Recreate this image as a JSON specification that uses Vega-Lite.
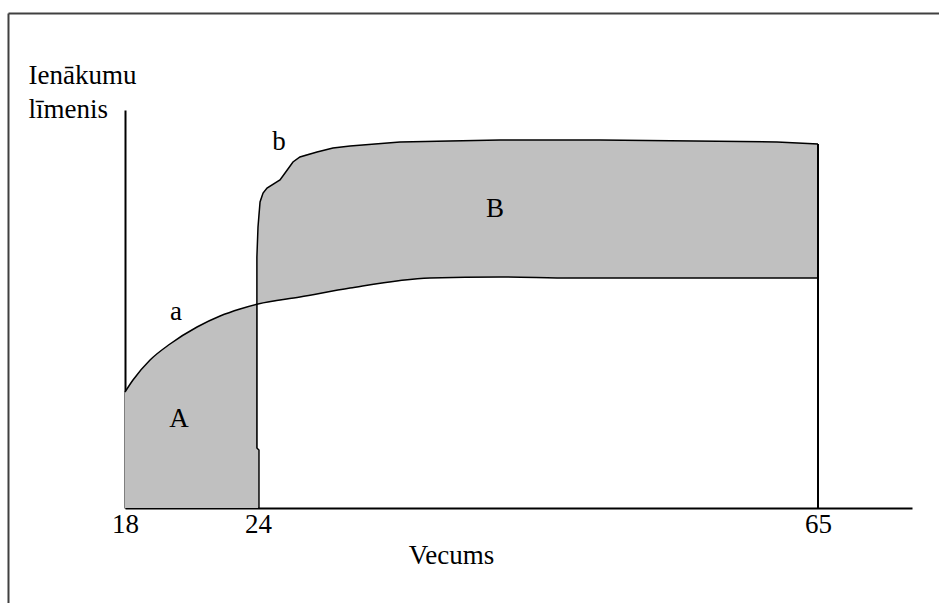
{
  "$schema": "https://vega.github.io/schema/vega-lite/v6.json",
  "width": 787,
  "height": 398,
  "autosize": {"type": "none"},
  "padding": {"left": 125, "top": 110, "right": 27, "bottom": 95},
  "background": "white",
  "config": {
    "view": {"stroke": null},
    "font": "Liberation Serif",
    "text": {"font": "Liberation Serif"}
  },
  "datasets": {
    "curveA": [
      {"age": 18, "inc": 116},
      {"age": 18.36, "inc": 128},
      {"age": 19.13, "inc": 148},
      {"age": 20.03, "inc": 164},
      {"age": 21.25, "inc": 181},
      {"age": 22.29, "inc": 192},
      {"age": 23.19, "inc": 199},
      {"age": 24, "inc": 204},
      {"age": 27.07, "inc": 211},
      {"age": 30.74, "inc": 220},
      {"age": 36.59, "inc": 230},
      {"age": 41.72, "inc": 231},
      {"age": 47.0, "inc": 230},
      {"age": 65, "inc": 230}
    ],
    "curveB": [
      {"ord": 1, "age": 24.07, "inc": 0},
      {"ord": 2, "age": 24.07, "inc": 58},
      {"ord": 3, "age": 23.95, "inc": 60},
      {"ord": 4, "age": 23.95, "inc": 251},
      {"ord": 5, "age": 24.0, "inc": 281},
      {"ord": 6, "age": 24.15, "inc": 306},
      {"ord": 7, "age": 24.37, "inc": 315},
      {"ord": 8, "age": 24.66, "inc": 320},
      {"ord": 9, "age": 25.61, "inc": 328},
      {"ord": 10, "age": 25.98, "inc": 335},
      {"ord": 11, "age": 26.56, "inc": 346},
      {"ord": 12, "age": 27.07, "inc": 351},
      {"ord": 13, "age": 28.32, "inc": 356},
      {"ord": 14, "age": 29.49, "inc": 360},
      {"ord": 15, "age": 30.74, "inc": 362},
      {"ord": 16, "age": 34.4, "inc": 366},
      {"ord": 17, "age": 41.72, "inc": 368},
      {"ord": 18, "age": 49.04, "inc": 368},
      {"ord": 19, "age": 62.0, "inc": 366},
      {"ord": 20, "age": 65, "inc": 364}
    ],
    "bandB": [
      {"age": 23.95, "top": 251, "bottom": 204},
      {"age": 24.0, "top": 281, "bottom": 204},
      {"age": 24.15, "top": 306, "bottom": 204.4},
      {"age": 24.37, "top": 315, "bottom": 204.9},
      {"age": 24.66, "top": 320, "bottom": 205.5},
      {"age": 25.61, "top": 328, "bottom": 207.6},
      {"age": 25.98, "top": 335, "bottom": 208.5},
      {"age": 26.56, "top": 346, "bottom": 209.8},
      {"age": 27.07, "top": 351, "bottom": 211},
      {"age": 28.32, "top": 356, "bottom": 214},
      {"age": 29.49, "top": 360, "bottom": 217},
      {"age": 30.74, "top": 362, "bottom": 220},
      {"age": 34.4, "top": 366, "bottom": 227},
      {"age": 36.59, "top": 367, "bottom": 230},
      {"age": 41.72, "top": 368, "bottom": 231},
      {"age": 47.0, "top": 368, "bottom": 230},
      {"age": 62.0, "top": 366, "bottom": 230},
      {"age": 65, "top": 364, "bottom": 230}
    ],
    "letters": [
      {"label": "a", "age": 20.3, "inc": 196},
      {"label": "A", "age": 20.44, "inc": 89},
      {"label": "b", "age": 25.54, "inc": 366},
      {"label": "B", "age": 41.35, "inc": 299}
    ],
    "retire": [
      {"age": 65, "inc": 0, "inc2": 364}
    ],
    "frameTop": [
      {"age": 12.744, "age2": 74.66, "inc": 494.5}
    ],
    "frameLeft": [
      {"age": 12.744, "inc": 494.5, "inc2": -102}
    ]
  },
  "encoding": {
    "x": {
      "type": "quantitative",
      "scale": {"type": "linear", "domain": [18, 24, 65, 71.88], "range": [0, 133, 693, 787], "nice": false, "zero": false},
      "axis": {
        "values": [18, 24, 65],
        "title": "Vecums",
        "grid": false,
        "ticks": false,
        "tickSize": 0,
        "labelFont": "Liberation Serif",
        "labelFontSize": 27,
        "labelColor": "black",
        "labelAlign": "center",
        "labelBaseline": "alphabetic",
        "labelPadding": 24,
        "labelFlush": false,
        "labelOverlap": false,
        "domainColor": "black",
        "domainWidth": 2,
        "titleFont": "Liberation Serif",
        "titleFontSize": 27,
        "titleFontWeight": "normal",
        "titleColor": "black",
        "titleX": 326,
        "titleY": 55,
        "titleAlign": "center",
        "titleBaseline": "alphabetic"
      }
    },
    "y": {
      "type": "quantitative",
      "scale": {"domain": [0, 398], "nice": false, "zero": false},
      "axis": {
        "title": ["Ienākumu", "līmenis"],
        "grid": false,
        "ticks": false,
        "labels": false,
        "domainColor": "black",
        "domainWidth": 2,
        "titleFont": "Liberation Serif",
        "titleFontSize": 27,
        "titleFontWeight": "normal",
        "titleColor": "black",
        "titleAngle": 0,
        "titleAlign": "left",
        "titleBaseline": "alphabetic",
        "titleX": -97,
        "titleY": -27,
        "titleLineHeight": 34
      }
    }
  },
  "layer": [
    {
      "data": {"name": "curveA"},
      "transform": [{"filter": "datum.age <= 24"}],
      "mark": {"type": "area", "color": "#c0c0c0", "opacity": 1, "interpolate": "monotone"},
      "encoding": {
        "x": {"field": "age"},
        "y": {"field": "inc"},
        "y2": {"datum": 0}
      }
    },
    {
      "data": {"name": "bandB"},
      "mark": {"type": "area", "color": "#c0c0c0", "opacity": 1, "interpolate": "monotone"},
      "encoding": {
        "x": {"field": "age"},
        "y": {"field": "top"},
        "y2": {"field": "bottom"}
      }
    },
    {
      "data": {"name": "curveA"},
      "mark": {"type": "line", "color": "black", "strokeWidth": 1.5, "interpolate": "monotone"},
      "encoding": {
        "x": {"field": "age"},
        "y": {"field": "inc"}
      }
    },
    {
      "data": {"name": "curveB"},
      "mark": {"type": "line", "color": "black", "strokeWidth": 1.5},
      "encoding": {
        "x": {"field": "age"},
        "y": {"field": "inc"},
        "order": {"field": "ord"}
      }
    },
    {
      "data": {"name": "retire"},
      "mark": {"type": "rule", "color": "black", "strokeWidth": 2},
      "encoding": {
        "x": {"field": "age"},
        "y": {"field": "inc"},
        "y2": {"field": "inc2"}
      }
    },
    {
      "data": {"name": "letters"},
      "mark": {"type": "text", "font": "Liberation Serif", "fontSize": 27, "color": "black", "align": "center", "baseline": "middle"},
      "encoding": {
        "x": {"field": "age"},
        "y": {"field": "inc"},
        "text": {"field": "label"}
      }
    },
    {
      "data": {"name": "frameTop"},
      "mark": {"type": "rule", "color": "#404040", "strokeWidth": 2},
      "encoding": {
        "x": {"field": "age"},
        "x2": {"field": "age2"},
        "y": {"field": "inc"}
      }
    },
    {
      "data": {"name": "frameLeft"},
      "mark": {"type": "rule", "color": "#404040", "strokeWidth": 2},
      "encoding": {
        "x": {"field": "age"},
        "y": {"field": "inc"},
        "y2": {"field": "inc2"}
      }
    }
  ]
}
